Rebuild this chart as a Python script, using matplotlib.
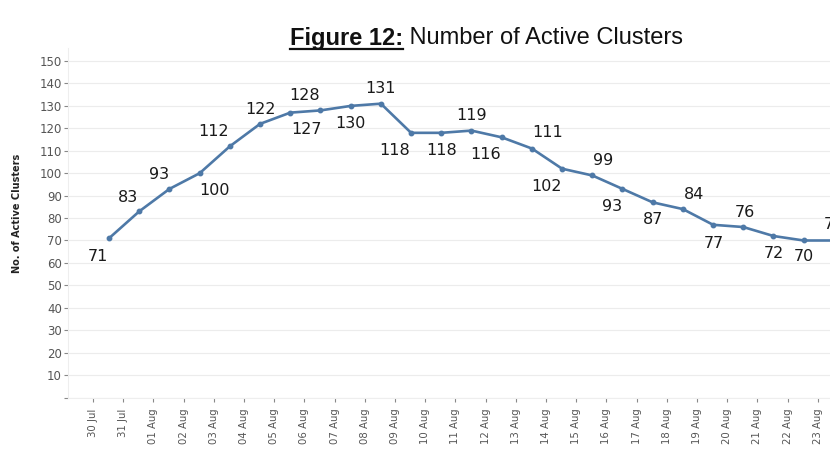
import matplotlib.pyplot as plt
from matplotlib.lines import Line2D

dates = ["30 Jul", "31 Jul", "01 Aug", "02 Aug", "03 Aug", "04 Aug", "05 Aug",
         "06 Aug", "07 Aug", "08 Aug", "09 Aug", "10 Aug", "11 Aug", "12 Aug",
         "13 Aug", "14 Aug", "15 Aug", "16 Aug", "17 Aug", "18 Aug", "19 Aug",
         "20 Aug", "21 Aug", "22 Aug", "23 Aug"]
clusters = [71, 83, 93, 100, 112, 122, 127, 128, 130, 131, 118, 118, 119, 116,
            111, 102, 99, 93, 87, 84, 77, 76, 72, 70, 70]

# label placement (pixels, x right / y down from the point)
lab_dx = [-11, -11, -10, 15, -16, 0, 16, -16, 0, 0, -16, 0, 0, -16,
          16, -16, 11, -10, 0, 11, 1, 2, 0, 0, 0]
lab_dy = [17, -15, -16, 16, -16, -16, 16, -16, 16, -16, 16.5, 16.5, -16.5, 16,
          -17, 16, -16, 16, 16, -16, 17, -16, 16, 15, -17]

line_color = "#4e79a7"

fig = plt.figure(figsize=(8.3, 4.68), dpi=100)
ax = fig.add_axes([68 / 830, 1 - 397.5 / 468, 781 / 830, 349.9 / 468])

x = list(range(len(clusters)))
ax.plot(x, clusters, color=line_color, linewidth=1.9, marker="o",
        markersize=3.2, zorder=3)

for i, v in enumerate(clusters):
    ax.annotate(str(v), (i, v), xytext=(lab_dx[i], -(lab_dy[i] + 5.8)),
                textcoords="offset pixels", ha="center", va="baseline",
                fontsize=11.5, color="#1a1a1a", annotation_clip=False)

ax.set_xlim(-1.36, 24.5)
ax.set_ylim(0, 156)

yt = list(range(0, 151, 10))
ax.set_yticks(yt)
ax.set_yticklabels([""] + [str(t) for t in yt[1:]], fontsize=8.5, color="#555555")
ax.set_xticks([i - 0.53 for i in x])
ax.set_xticklabels(dates, rotation=90, fontsize=7.3, color="#555555")
ax.tick_params(axis="y", length=3, width=0.8, color="#888888", pad=1.5)
ax.tick_params(axis="x", length=3, width=0.8, color="#888888", pad=5)

ax.grid(axis="y", color="#ececec", linewidth=0.8)
ax.set_axisbelow(True)
for s in ["top", "right"]:
    ax.spines[s].set_visible(False)
ax.spines["left"].set_color("#eeeeee")
ax.spines["bottom"].set_color("#eeeeee")

fig.text(17 / 830, 1 - 213 / 468, "No. of Active Clusters", rotation=90,
         ha="center", va="center", fontsize=7, fontweight="bold", color="#222222")

# title: bold underlined part + regular part
ty = 1 - 44.5 / 468
t1 = fig.text(403 / 830, ty, "Figure 12:", ha="right", va="baseline",
              fontsize=17, fontweight="bold", family="Liberation Sans", color="#111111")
t2 = fig.text(403 / 830, ty, " Number of Active Clusters", ha="left", va="baseline",
              fontsize=17, family="Liberation Sans", color="#111111")
fig.canvas.draw()
bb = t1.get_window_extent()
uy = 1 - 48.5 / 468
fig.add_artist(Line2D([bb.x0 / 830, bb.x1 / 830], [uy, uy], color="#111111",
                      linewidth=1.6, transform=fig.transFigure))

fig.savefig("out.png", dpi=100)
